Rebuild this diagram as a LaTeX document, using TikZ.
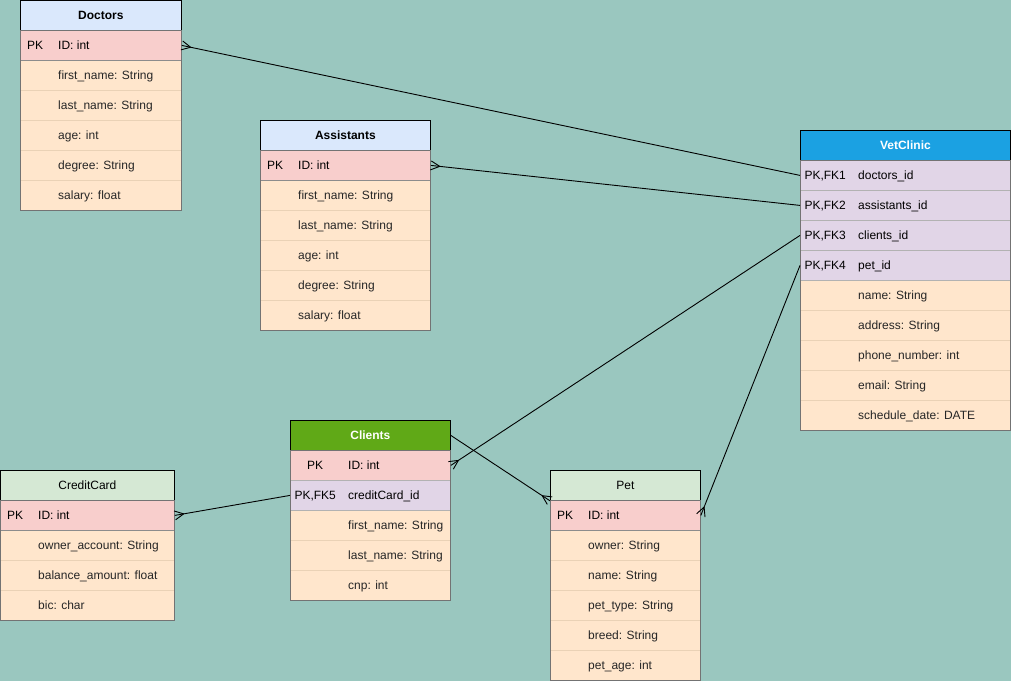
\documentclass[tikz,border=0pt]{standalone}
\usepackage{fontspec}
\setmainfont{Liberation Sans}
\usetikzlibrary{positioning,calc,decorations.markings}

\definecolor{bgmint}{HTML}{9AC7BF}
\definecolor{hdblue}{HTML}{DAE8FC}
\definecolor{hdvet}{HTML}{1BA1E2}
\definecolor{hdclient}{HTML}{60A917}
\definecolor{hdgreen}{HTML}{D5E8D4}
\definecolor{pkred}{HTML}{F8CECC}
\definecolor{fkpurple}{HTML}{E1D5E7}
\definecolor{attrorange}{HTML}{FFE6CC}
\definecolor{attrline}{HTML}{EAD2B6}

\begin{document}
\fontsize{12pt}{14pt}\selectfont
\begin{tikzpicture}[
    x=1pt, y=-1pt,
    head/.style = {rectangle, draw=black, anchor=north west, minimum height=30pt, inner sep=0pt, line width=0.8pt},
    keyrow/.style = {rectangle, draw=black!45, fill=pkred, anchor=north west, minimum height=30pt, inner sep=0pt, line width=0.8pt},
    fkrow/.style = {keyrow, fill=fkpurple, draw=black!30},
    attrrow/.style = {rectangle, draw=attrline, fill=attrorange, anchor=north west, minimum height=30pt, inner sep=0pt, line width=0.8pt},
    keytxt/.style = {inner sep=0pt, text height=9pt, text depth=0.5pt, text=black},
    fieldtxt/.style = {inner sep=0pt, text height=9pt, text depth=0.5pt, text=black!85},
    frame/.style = {draw=black!55, line width=0.8pt},
    link/.style = {draw=black, line width=0.9pt},
    many end/.style = {postaction={decorate}, decoration={markings, mark=at position 1 with {\draw[link] (-9,0) -- (0,4.5) (-9,0) -- (0,-4.5);}}}
]
    % canvas
    \fill[bgmint] (0,0) rectangle (1011,681);
    \useasboundingbox (0,0) rectangle (1011,681);

    % Doctors
    \foreach \f [count=\i] in {first\_name: String, last\_name: String, age: int, degree: String, salary: float}{
        \node[attrrow, minimum width=161pt] (doc\i) at (20,{30+30*\i}) {};
        \node[fieldtxt, right=38pt of doc\i.west] {\f};
    }
    \node[keyrow, minimum width=161pt] (docpk) at (20,30) {};
    \node[keytxt, minimum width=30pt, right=0pt of docpk.west] {PK};
    \node[fieldtxt, text=black, right=38pt of docpk.west] {ID: int};
    \node[head, fill=hdblue, minimum width=161pt, font=\bfseries] (doc) at (20,0) {Doctors};
    \draw[frame] (doc.south west) rectangle (doc5.south east);

    % Assistants
    \foreach \f [count=\i] in {first\_name: String, last\_name: String, age: int, degree: String, salary: float}{
        \node[attrrow, minimum width=170pt] (asi\i) at (260,{150+30*\i}) {};
        \node[fieldtxt, right=38pt of asi\i.west] {\f};
    }
    \node[keyrow, minimum width=170pt] (asipk) at (260,150) {};
    \node[keytxt, minimum width=30pt, right=0pt of asipk.west] {PK};
    \node[fieldtxt, text=black, right=38pt of asipk.west] {ID: int};
    \node[head, fill=hdblue, minimum width=170pt, font=\bfseries] (asi) at (260,120) {Assistants};
    \draw[frame] (asi.south west) rectangle (asi5.south east);

    % VetClinic
    \foreach \f [count=\i] in {name: String, address: String, phone\_number: int, email: String, schedule\_date: DATE}{
        \node[attrrow, minimum width=210pt] (vet\i) at (800,{250+30*\i}) {};
        \node[fieldtxt, right=58pt of vet\i.west] {\f};
    }
    \foreach \f [count=\i] in {doctors\_id, assistants\_id, clients\_id, pet\_id}{
        \node[fkrow, minimum width=210pt] (vetfk\i) at (800,{130+30*\i}) {};
        \node[keytxt, minimum width=50pt, right=0pt of vetfk\i.west] {PK,FK\i};
        \node[fieldtxt, text=black, right=58pt of vetfk\i.west] {\f};
    }
    \node[head, fill=hdvet, minimum width=210pt, text=white, font=\bfseries] (vet) at (800,130) {VetClinic};
    \draw[frame] (vet.south west) rectangle (vet5.south east);

    % Clients
    \foreach \f [count=\i] in {first\_name: String, last\_name: String, cnp: int}{
        \node[attrrow, minimum width=160pt] (cli\i) at (290,{480+30*\i}) {};
        \node[fieldtxt, right=58pt of cli\i.west] {\f};
    }
    \node[keyrow, minimum width=160pt] (clipk) at (290,450) {};
    \node[keytxt, minimum width=50pt, right=0pt of clipk.west] {PK};
    \node[fieldtxt, text=black, right=58pt of clipk.west] {ID: int};
    \node[fkrow, minimum width=160pt] (clifk) at (290,480) {};
    \node[keytxt, minimum width=50pt, right=0pt of clifk.west] {PK,FK5};
    \node[fieldtxt, text=black, right=58pt of clifk.west] {creditCard\_id};
    \node[head, fill=hdclient, minimum width=160pt, text=white, font=\bfseries] (cli) at (290,420) {Clients};
    \draw[frame] (cli.south west) rectangle (cli3.south east);

    % CreditCard
    \foreach \f [count=\i] in {owner\_account: String, balance\_amount: float, bic: char}{
        \node[attrrow, minimum width=174pt] (crd\i) at (0,{500+30*\i}) {};
        \node[fieldtxt, right=38pt of crd\i.west] {\f};
    }
    \node[keyrow, minimum width=174pt] (crdpk) at (0,500) {};
    \node[keytxt, minimum width=30pt, right=0pt of crdpk.west] {PK};
    \node[fieldtxt, text=black, right=38pt of crdpk.west] {ID: int};
    \node[head, fill=hdgreen, minimum width=174pt] (crd) at (0,470) {CreditCard};
    \draw[frame] (crd.south west) rectangle (crd3.south east);

    % Pet
    \foreach \f [count=\i] in {owner: String, name: String, pet\_type: String, breed: String, pet\_age: int}{
        \node[attrrow, minimum width=150pt] (pet\i) at (550,{500+30*\i}) {};
        \node[fieldtxt, right=38pt of pet\i.west] {\f};
    }
    \node[keyrow, minimum width=150pt] (petpk) at (550,500) {};
    \node[keytxt, minimum width=30pt, right=0pt of petpk.west] {PK};
    \node[fieldtxt, text=black, right=38pt of petpk.west] {ID: int};
    \node[head, fill=hdgreen, minimum width=150pt] (pet) at (550,470) {Pet};
    \draw[frame] (pet.south west) rectangle (pet5.south east);

    % Relations (crow's foot on the many side)
    \draw[link, many end] (vetfk1.west) -- (docpk.east);
    \draw[link, many end] (vetfk2.west) -- (asipk.east);
    \draw[link, many end] (vetfk3.west) -- (clipk.east);
    \draw[link, many end] (vetfk4.west) -- (petpk.east);
    \draw[link, many end] (clifk.west) -- (crdpk.east);
    \draw[link, many end] (cli.east) -- (pet.south west);
\end{tikzpicture}
\end{document}
